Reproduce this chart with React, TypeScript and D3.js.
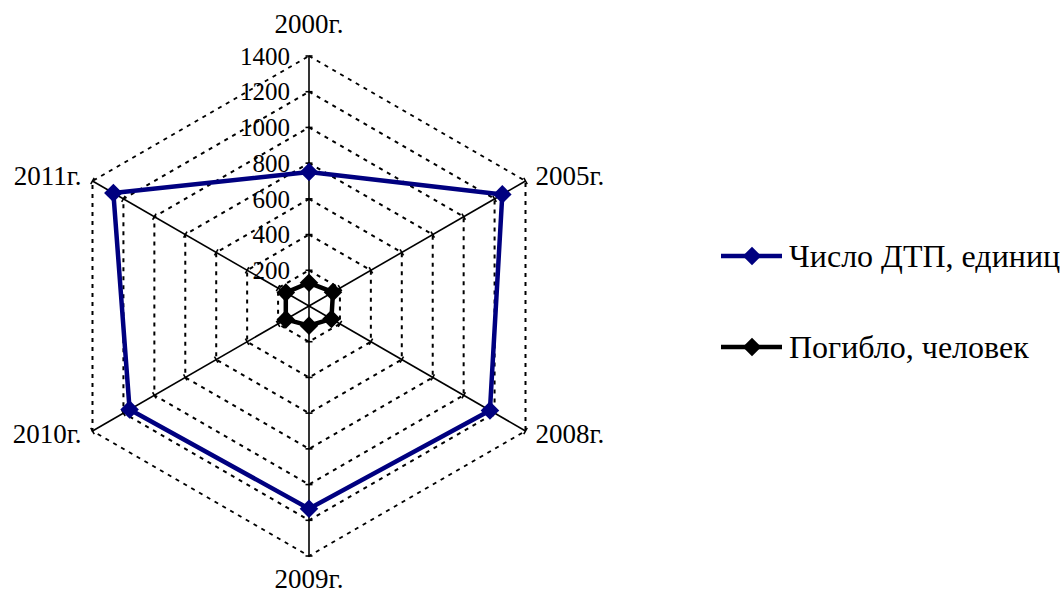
import React from "react";
import * as d3 from "d3";

const categories = ["2000г.", "2005г.", "2008г.", "2009г.", "2010г.", "2011г."];
const accidents = [750, 1250, 1170, 1135, 1160, 1265];
const deaths = [130, 155, 145, 110, 150, 150];
const tickValues = [200, 400, 600, 800, 1000, 1200, 1400];
const seriesNames = ["Число ДТП, единиц", "Погибло, человек"];
const seriesColors = ["#000080", "#000000"];

const width = 1064;
const height = 597;
const cx = 309;
const cy = 306;
const radius = 250;

const r = d3.scaleLinear().domain([0, 1400]).range([0, radius]);
const angle = (i: number) => (i * Math.PI * 2) / categories.length;
const px = (i: number, v: number) => cx + r(v) * Math.sin(angle(i));
const py = (i: number, v: number) => cy - r(v) * Math.cos(angle(i));

const diamond = d3.symbol().type(d3.symbolDiamond2).size(220);

const font = '"Times New Roman", Times, serif';

const App = () => {
  const series = [accidents, deaths];
  const radial = d3
    .lineRadial<number>()
    .angle((d, i) => angle(i))
    .radius((d) => r(d))
    .curve(d3.curveLinearClosed);

  return (
    <svg
      width={width}
      height={height}
      style={{ position: "absolute", left: 0, top: 0, background: "#fff", fontFamily: font }}
    >
      {/* dashed hexagon grid */}
      {tickValues.map((t) => (
        <path
          key={"g" + t}
          d={radial(categories.map(() => t)) || ""}
          transform={`translate(${cx},${cy})`}
          fill="none"
          stroke="#000"
          strokeWidth={2}
          strokeDasharray="4 5"
        />
      ))}

      {/* axes with cross ticks */}
      {categories.map((c, i) => {
        const a = angle(i);
        const nx = Math.cos(a);
        const ny = Math.sin(a);
        return (
          <g key={"a" + i}>
            <line x1={cx} y1={cy} x2={px(i, 1400)} y2={py(i, 1400)} stroke="#000" strokeWidth={1.6} />
            {tickValues.map((t) => (
              <line
                key={t}
                x1={px(i, t) - nx * 3.5}
                y1={py(i, t) - ny * 3.5}
                x2={px(i, t) + nx * 3.5}
                y2={py(i, t) + ny * 3.5}
                stroke="#000"
                strokeWidth={1.6}
              />
            ))}
          </g>
        );
      })}

      {/* tick labels on the vertical axis */}
      {tickValues.map((t) => (
        <text
          key={"t" + t}
          x={cx - 19}
          y={cy - r(t)}
          dy="0.35em"
          textAnchor="end"
          fontSize={25}
          fill="#000"
        >
          {t}
        </text>
      ))}

      {/* category labels */}
      {categories.map((c, i) => {
        const x = px(i, 1400);
        const y = py(i, 1400);
        const s = Math.sin(angle(i));
        const cs = Math.cos(angle(i));
        let anchor = "middle";
        let tx = x;
        let ty = y;
        if (s > 0.1) {
          anchor = "start";
          tx = x + 10;
          ty = y + (cs > 0 ? 4 : 12);
        } else if (s < -0.1) {
          anchor = "end";
          tx = x - 11;
          ty = y + (cs > 0 ? 4 : 12);
        } else if (cs > 0) {
          ty = y - 23;
        } else {
          ty = y + 32;
        }
        return (
          <text key={"c" + i} x={tx} y={ty} textAnchor={anchor} fontSize={27} fill="#000">
            {c}
          </text>
        );
      })}

      {/* series */}
      {series.map((vals, si) => (
        <g key={"s" + si}>
          <path
            d={radial(vals) || ""}
            transform={`translate(${cx},${cy})`}
            fill="none"
            stroke={seriesColors[si]}
            strokeWidth={4.5}
            strokeLinejoin="round"
          />
          {vals.map((v, i) => (
            <path
              key={i}
              d={diamond() || ""}
              transform={`translate(${px(i, v)},${py(i, v)})`}
              fill={seriesColors[si]}
            />
          ))}
        </g>
      ))}

      {/* legend */}
      {seriesNames.map((n, si) => {
        const ly = 256 + si * 91;
        return (
          <g key={"l" + si}>
            <line x1={721} y1={ly} x2={782} y2={ly} stroke={seriesColors[si]} strokeWidth={4.5} />
            <path d={diamond() || ""} transform={`translate(752,${ly})`} fill={seriesColors[si]} />
            <text x={789} y={ly} dy="0.35em" fontSize={32} fill="#000">
              {n}
            </text>
          </g>
        );
      })}
    </svg>
  );
};

export default App;
